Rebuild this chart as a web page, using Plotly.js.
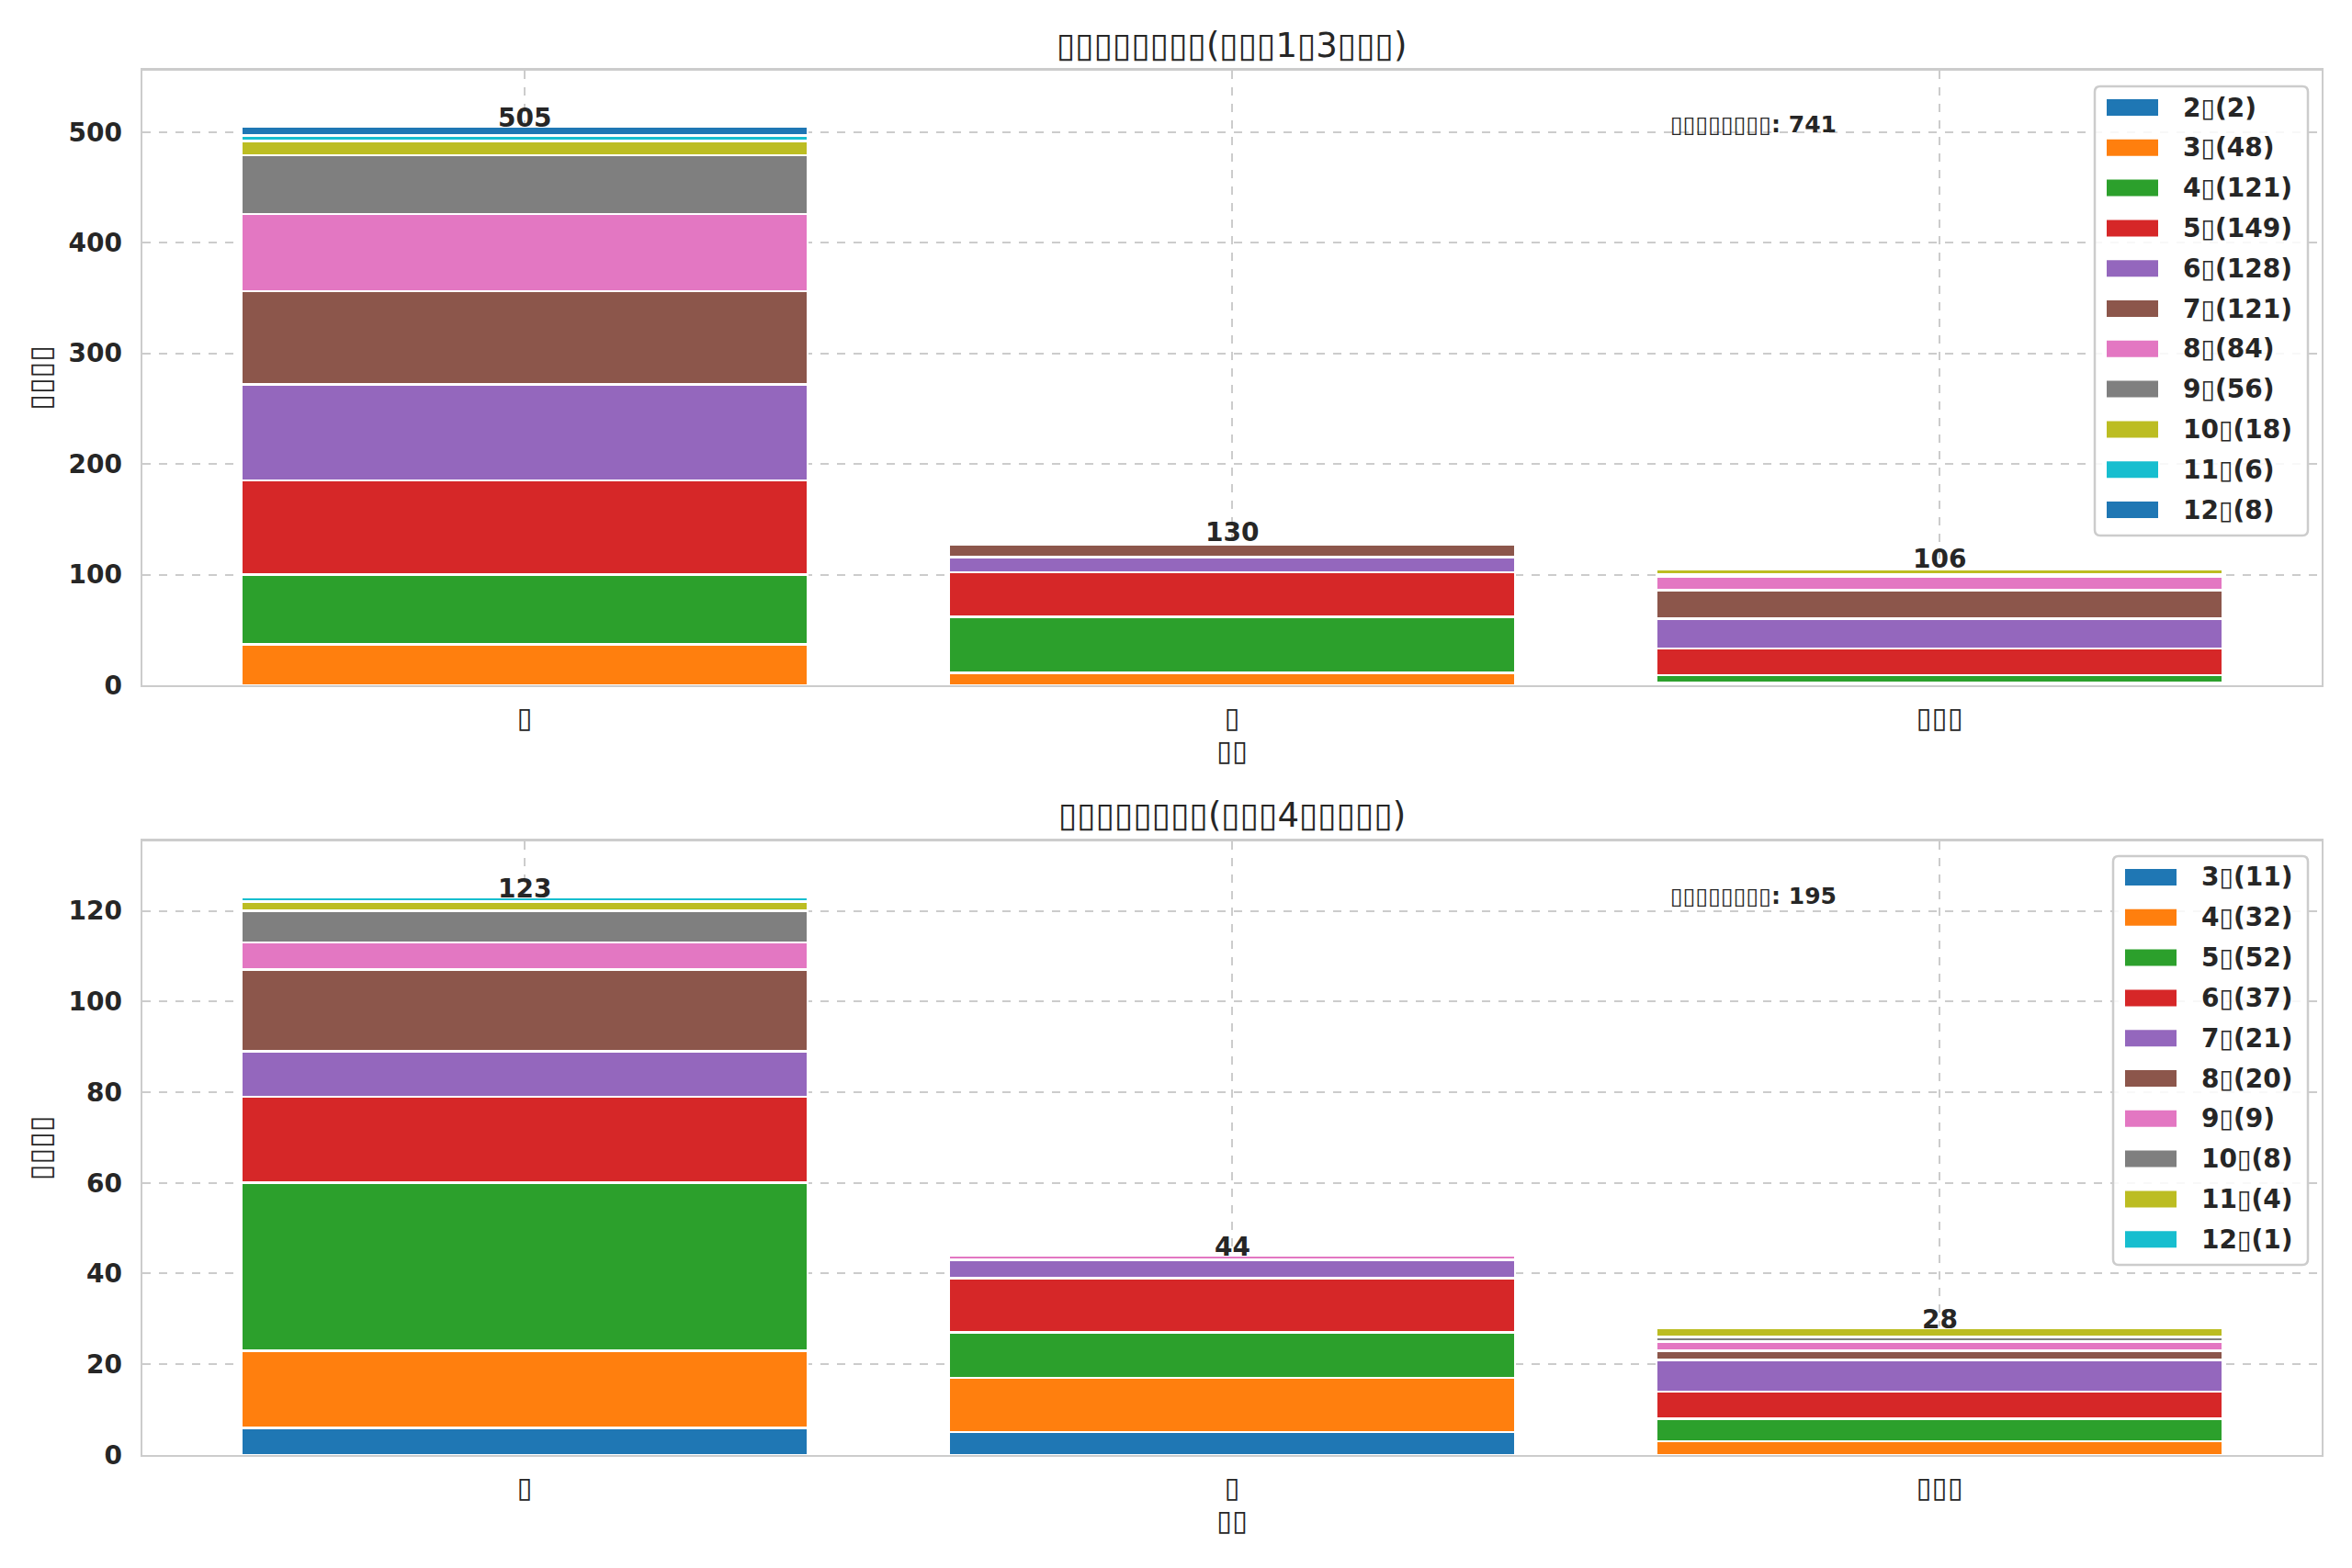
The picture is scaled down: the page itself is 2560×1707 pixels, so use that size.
<!DOCTYPE html>
<html>
<head>
<meta charset="utf-8">
<script src="https://cdn.plot.ly/plotly-3.0.1.min.js"></script>
<style>
  html, body { margin: 0; padding: 0; background: #ffffff; }
</style>
</head>
<body>
<div id="chart" style="width:2560px;height:1707px;"></div>
<script>
// tofu boxes: the source figure lost its CJK glyphs, so they are kept as boxes
var box = '\u25AF';

var catPos = [0, 1, 2];
var catTicks = [box, box, box + box + box];

// upper chart: ages 2..12
var topAges = [2, 3, 4, 5, 6, 7, 8, 9, 10, 11, 12];
var topCounts = [
  [0, 0, 2],
  [37, 11, 0],
  [63, 51, 7],
  [85, 40, 24],
  [87, 14, 27],
  [84, 11, 26],
  [70, 2, 12],
  [53, 1, 2],
  [13, 0, 5],
  [5, 0, 1],
  [8, 0, 0]
];

// lower chart: ages 3..12
var bottomAges = [3, 4, 5, 6, 7, 8, 9, 10, 11, 12];
var bottomCounts = [
  [6, 5, 0],
  [17, 12, 3],
  [37, 10, 5],
  [19, 12, 6],
  [10, 4, 7],
  [18, 0, 2],
  [6, 1, 2],
  [7, 0, 1],
  [2, 0, 2],
  [1, 0, 0]
];

var tab10 = ['#1f77b4', '#ff7f0e', '#2ca02c', '#d62728', '#9467bd',
             '#8c564b', '#e377c2', '#7f7f7f', '#bcbd22', '#17becf'];

var W = 2560, H = 1707;
var FONT = 'DejaVu Sans';
var INK = '#262626';
var GRID = '#cccccc';
var thinBox = '<span style="font-weight:normal">' + box + '</span>';

function sum(a) { return a.reduce(function (s, v) { return s + v; }, 0); }
function px(x) { return x / W; }
function py(y) { return 1 - y / H; }

function barTotals(counts) {
  return catPos.map(function (_, i) {
    return sum(counts.map(function (row) { return row[i]; }));
  });
}

function makeTraces(ages, counts, xa, ya) {
  return ages.map(function (age, k) {
    return {
      type: 'bar',
      x: catPos,
      y: counts[k],
      width: 0.8,
      name: age + '(' + sum(counts[k]) + ')',
      marker: { color: tab10[k % 10], line: { color: '#ffffff', width: 2.5 } },
      xaxis: xa,
      yaxis: ya,
      showlegend: false,
      hoverinfo: 'skip'
    };
  });
}

var topTotals = barTotals(topCounts);
var bottomTotals = barTotals(bottomCounts);

var traces = makeTraces(topAges, topCounts, 'x', 'y')
  .concat(makeTraces(bottomAges, bottomCounts, 'x2', 'y2'));

function xAxis(anchor) {
  return {
    domain: [0.0606, 0.9871],
    anchor: anchor,
    range: [-0.54, 2.54],
    tickmode: 'array',
    tickvals: catPos,
    ticktext: catTicks,
    tickfont: { family: FONT, size: 31, color: INK },
    ticks: 'outside', ticklen: 6, tickcolor: 'rgba(0,0,0,0)',
    showgrid: true, gridcolor: GRID, griddash: 'dash', gridwidth: 2,
    showline: true, mirror: true, linecolor: GRID, linewidth: 2.5,
    zeroline: false,
    title: { text: box + box, font: { family: FONT, size: 31, color: INK }, standoff: 8 }
  };
}

function yAxis(domain, anchor, top, step) {
  return {
    domain: domain,
    anchor: anchor,
    range: [0, top * 1.1],
    dtick: step,
    tickfont: { family: FONT, size: 28, color: INK, weight: 'bold' },
    ticks: 'outside', ticklen: 14, tickcolor: 'rgba(0,0,0,0)',
    showgrid: true, gridcolor: GRID, griddash: 'dash', gridwidth: 2,
    showline: true, mirror: true, linecolor: GRID, linewidth: 2.5,
    zeroline: false,
    title: { text: box + box + box + box, font: { family: FONT, size: 32, color: INK }, standoff: 10 }
  };
}

var annotations = [];
var shapes = [];

function addTotals(totals, xa, ya) {
  totals.forEach(function (t, i) {
    annotations.push({
      xref: xa, yref: ya, x: catPos[i], y: t, text: String(t),
      showarrow: false, yanchor: 'bottom', yshift: -9,
      font: { family: FONT, size: 28, color: INK, weight: 'bold' }
    });
  });
}
addTotals(topTotals, 'x', 'y');
addTotals(bottomTotals, 'x2', 'y2');

var titleTop = box.repeat(8) + '(' + box.repeat(3) + '1' + box + '3' + box.repeat(3) + ')';
var titleBottom = box.repeat(8) + '(' + box.repeat(3) + '4' + box.repeat(5) + ')';
[[titleTop, 49], [titleBottom, 887]].forEach(function (t) {
  annotations.push({
    xref: 'paper', yref: 'paper', x: 0.5238, y: py(t[1]), text: t[0],
    showarrow: false, xanchor: 'center', yanchor: 'middle',
    font: { family: FONT, size: 37, color: INK }
  });
});

[[sum(topTotals), 136], [sum(bottomTotals), 975]].forEach(function (t) {
  annotations.push({
    xref: 'paper', yref: 'paper', x: px(1816), y: py(t[1]),
    text: '<span style="font-weight:normal">' + box.repeat(8) + '</span>: ' + t[0],
    showarrow: false, xanchor: 'left', yanchor: 'middle',
    font: { family: FONT, size: 25, color: INK, weight: 'bold' }
  });
});

// matplotlib-style legend box with wide colour patches
function roundRect(x0, y0, x1, y1, r) {
  var X0 = px(x0), X1 = px(x1), Y0 = py(y0), Y1 = py(y1);
  var rx = r / W, ry = r / H;
  return 'M' + (X0 + rx) + ',' + Y0 + ' L' + (X1 - rx) + ',' + Y0 +
    ' Q' + X1 + ',' + Y0 + ' ' + X1 + ',' + (Y0 - ry) +
    ' L' + X1 + ',' + (Y1 + ry) + ' Q' + X1 + ',' + Y1 + ' ' + (X1 - rx) + ',' + Y1 +
    ' L' + (X0 + rx) + ',' + Y1 + ' Q' + X0 + ',' + Y1 + ' ' + X0 + ',' + (Y1 + ry) +
    ' L' + X0 + ',' + (Y0 - ry) + ' Q' + X0 + ',' + Y0 + ' ' + (X0 + rx) + ',' + Y0 + ' Z';
}

function addLegend(ages, counts, frame) {
  shapes.push({
    type: 'path', xref: 'paper', yref: 'paper',
    path: roundRect(frame.left, frame.top, frame.right, frame.bottom, 6),
    fillcolor: 'rgba(255,255,255,0.85)', line: { color: GRID, width: 2.5 }
  });
  ages.forEach(function (age, k) {
    var cy = frame.top + 23 + k * 43.8;
    shapes.push({
      type: 'rect', xref: 'paper', yref: 'paper',
      x0: px(frame.left + 13), x1: px(frame.left + 69),
      y0: py(cy - 9), y1: py(cy + 9),
      fillcolor: tab10[k % 10], line: { width: 0 }
    });
    annotations.push({
      xref: 'paper', yref: 'paper', x: px(frame.left + 94), y: py(cy),
      text: age + thinBox + '(' + sum(counts[k]) + ')',
      showarrow: false, xanchor: 'left', yanchor: 'middle',
      font: { family: FONT, size: 28, color: INK, weight: 'bold' }
    });
  });
}
addLegend(topAges, topCounts, { left: 2280, top: 94, right: 2512, bottom: 583 });
addLegend(bottomAges, bottomCounts, { left: 2300, top: 932, right: 2512, bottom: 1377 });

var layout = {
  width: W,
  height: H,
  margin: { l: 0, r: 0, t: 0, b: 0 },
  paper_bgcolor: '#ffffff',
  plot_bgcolor: '#ffffff',
  barmode: 'stack',
  showlegend: false,
  xaxis: xAxis('y'),
  yaxis: yAxis([0.5630, 0.9549], 'x', Math.max.apply(null, topTotals), 100),
  xaxis2: xAxis('y2'),
  yaxis2: yAxis([0.0721, 0.4634], 'x2', Math.max.apply(null, bottomTotals), 20),
  annotations: annotations,
  shapes: shapes,
  font: { family: FONT, color: INK }
};

Plotly.newPlot('chart', traces, layout, { staticPlot: true });
</script>
</body>
</html>
